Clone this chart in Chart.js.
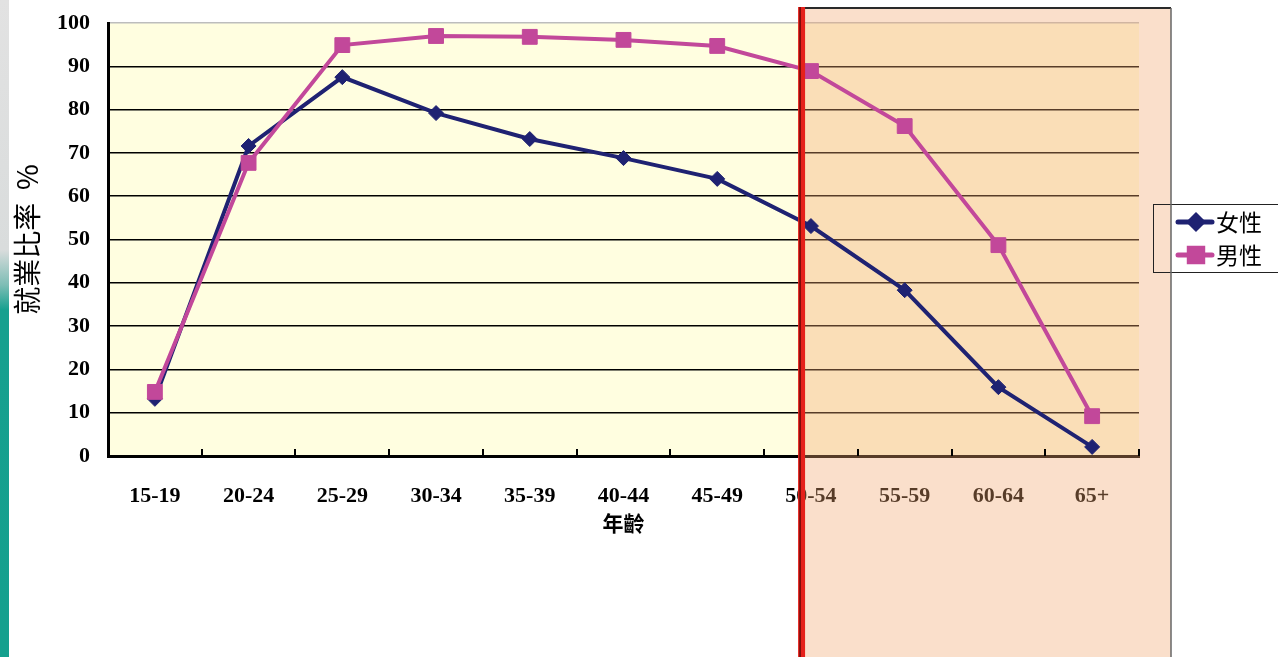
<!DOCTYPE html>
<html>
<head>
<meta charset="utf-8">
<script src="https://cdn.jsdelivr.net/npm/chart.js@4"></script>
<style>
  html, body { margin: 0; padding: 0; background: #fff; }
  #wrap { position: relative; width: 1278px; height: 657px; overflow: hidden; }
  #stripe {
    position: absolute; left: 0; top: 0; width: 9px; height: 657px;
    background: linear-gradient(to bottom, #e2e2e2 0px, #d9dcdc 250px, #7dbdb5 285px, #16a08f 310px, #15a08e 657px);
  }
  #chart { position: absolute; left: 0; top: 0; }
</style>
</head>
<body>
<div id="wrap">
  <div id="stripe"></div>
  <canvas id="chart" width="1278" height="657"></canvas>
</div>
<script>
// Age groups and employment rate (%)
const ageGroups = ['15-19', '20-24', '25-29', '30-34', '35-39', '40-44', '45-49', '50-54', '55-59', '60-64', '65+'];
const femaleRate = [13.2, 71.6, 87.5, 79.2, 73.2, 68.8, 64.0, 53.1, 38.3, 15.9, 2.1];
const maleRate = [14.8, 67.7, 94.9, 97.0, 96.8, 96.1, 94.7, 88.9, 76.2, 48.7, 9.2];
const seriesNames = ['女性', '男性'];
const yTicks = [0, 10, 20, 30, 40, 50, 60, 70, 80, 90, 100];

const navy = '#1f2272';
const pink = '#c2489a';
const serifBold = { family: '"Liberation Serif", "Times New Roman", serif', size: 22, weight: 'bold' };

// Pale yellow plot background
const plotBackground = {
    id: 'plotBackground',
    beforeDraw(chart) {
        const { ctx, chartArea } = chart;
        ctx.save();
        ctx.fillStyle = '#fffee0';
        ctx.fillRect(chartArea.left, chartArea.top, chartArea.right - chartArea.left, chartArea.bottom - chartArea.top);
        ctx.restore();
    }
};

// Shaded 50+ block goes over the grid but under the lines
function shadeBox(chart) {
    const { chartArea, scales } = chart;
    const x = scales.x;
    const step = x.getPixelForValue(1) - x.getPixelForValue(0);
    return {
        x0: x.getPixelForValue(7) - step * 0.1,
        x1: chartArea.right + 32,
        y0: chartArea.top - 15,
        y1: chart.height
    };
}

const shade = {
    id: 'shade',
    beforeDatasetsDraw(chart) {
        const { ctx } = chart;
        const b = shadeBox(chart);
        ctx.save();
        ctx.fillStyle = 'rgba(240, 165, 110, 0.36)';
        ctx.fillRect(b.x0, b.y0, b.x1 - b.x0, b.y1 - b.y0);
        ctx.restore();
    }
};

// Small inward tick marks on the category axis, between the groups
const innerTicks = {
    id: 'innerTicks',
    afterDatasetsDraw(chart) {
        const { ctx, chartArea, scales } = chart;
        const x = scales.x;
        const step = x.getPixelForValue(1) - x.getPixelForValue(0);
        ctx.save();
        ctx.strokeStyle = '#000';
        ctx.lineWidth = 2;
        for (let i = 1; i <= ageGroups.length; i++) {
            const px = Math.round(x.getPixelForValue(i) - step / 2);
            ctx.beginPath();
            ctx.moveTo(px, chartArea.bottom);
            ctx.lineTo(px, chartArea.bottom - 7);
            ctx.stroke();
        }
        ctx.restore();
    }
};

// Boxed legend to the right of the plot, the block's border and the red divider
const legendAndDivider = {
    id: 'legendAndDivider',
    afterDraw(chart) {
        const { ctx, chartArea } = chart;

        const lx = chartArea.right + 14;
        const ly = chartArea.top + 181;
        ctx.save();
        ctx.strokeStyle = '#222';
        ctx.lineWidth = 1;
        ctx.strokeRect(lx + 0.5, ly + 0.5, 150, 68);
        ctx.font = '23px "Noto Sans CJK TC", sans-serif';
        ctx.textBaseline = 'middle';
        chart.data.datasets.forEach((ds, i) => {
            const cy = ly + 18 + i * 33;
            ctx.strokeStyle = ds.borderColor;
            ctx.lineWidth = 5;
            ctx.lineCap = 'round';
            ctx.beginPath();
            ctx.moveTo(lx + 25, cy);
            ctx.lineTo(lx + 59, cy);
            ctx.stroke();
            Chart.helpers.drawPoint(ctx, {
                pointStyle: ds.pointStyle,
                radius: ds.pointRadius - 1,
                borderWidth: 1
            }, lx + 43, cy);
            ctx.fillStyle = ds.borderColor;
            ctx.fill();
            ctx.fillStyle = '#000';
            ctx.fillText(ds.label, lx + 63, cy);
        });
        ctx.restore();

        const b = shadeBox(chart);
        ctx.save();
        ctx.strokeStyle = '#2a2a2a';
        ctx.lineWidth = 2;
        ctx.beginPath();
        ctx.moveTo(b.x0, b.y0);
        ctx.lineTo(b.x1, b.y0);
        ctx.stroke();
        ctx.strokeStyle = '#666';
        ctx.lineWidth = 1.5;
        ctx.beginPath();
        ctx.moveTo(b.x1, b.y0);
        ctx.lineTo(b.x1, b.y1);
        ctx.stroke();
        ctx.strokeStyle = '#e5211b';
        ctx.lineWidth = 7;
        ctx.beginPath();
        ctx.moveTo(b.x0, b.y0 - 1);
        ctx.lineTo(b.x0, b.y1);
        ctx.stroke();
        ctx.strokeStyle = '#6a0a08';
        ctx.lineWidth = 1.5;
        ctx.beginPath();
        ctx.moveTo(b.x0 - 1.5, b.y0 - 1);
        ctx.lineTo(b.x0 - 1.5, b.y1);
        ctx.stroke();
        ctx.restore();
    }
};

new Chart(document.getElementById('chart'), {
    type: 'line',
    data: {
        labels: ageGroups,
        datasets: [{
            label: seriesNames[0],
            data: femaleRate,
            borderColor: navy,
            backgroundColor: navy,
            borderWidth: 4,
            pointStyle: 'rectRot',
            pointRadius: 7.5,
            pointBorderWidth: 1,
            tension: 0,
            order: 1
        }, {
            label: seriesNames[1],
            data: maleRate,
            borderColor: pink,
            backgroundColor: pink,
            borderWidth: 4,
            pointStyle: 'rect',
            pointRadius: 10.5,
            pointBorderWidth: 1,
            tension: 0,
            order: 0
        }]
    },
    options: {
        responsive: false,
        devicePixelRatio: 1,
        animation: false,
        layout: { padding: { left: 0, top: 23, right: 139, bottom: 0 } },
        plugins: {
            legend: { display: false },
            tooltip: { enabled: false }
        },
        scales: {
            x: {
                offset: true,
                grid: { display: false },
                border: { display: true, color: '#000', width: 3 },
                ticks: { color: '#000', font: serifBold, padding: 19, maxRotation: 0 },
                title: {
                    display: true,
                    text: '年齡',
                    color: '#000',
                    font: { family: '"Noto Sans CJK TC", sans-serif', size: 21, weight: 'bold' },
                    padding: { top: 0, bottom: 121 }
                },
                afterFit(scale) {
                    scale.height = 201;
                    scale.paddingLeft = 0;
                    scale.paddingRight = 0;
                }
            },
            y: {
                min: 0,
                max: 100,
                afterBuildTicks(scale) { scale.ticks = yTicks.map(v => ({ value: v })); },
                grid: {
                    drawTicks: false,
                    color: ctx => (ctx.tick && ctx.tick.value === 100 ? '#bdbdbd' : '#000'),
                    lineWidth: 1.5
                },
                border: { display: true, color: '#000', width: 3 },
                ticks: { color: '#000', font: serifBold, padding: 18 },
                title: {
                    display: true,
                    text: '就業比率  %',
                    color: '#000',
                    font: { family: '"Noto Sans CJK TC", sans-serif', size: 28 },
                    padding: { top: 11, bottom: 0 }
                },
                afterFit(scale) {
                    scale.width = 108;
                    scale.paddingTop = 0;
                    scale.paddingBottom = 0;
                }
            }
        }
    },
    plugins: [plotBackground, shade, innerTicks, legendAndDivider]
});
</script>
</body>
</html>
